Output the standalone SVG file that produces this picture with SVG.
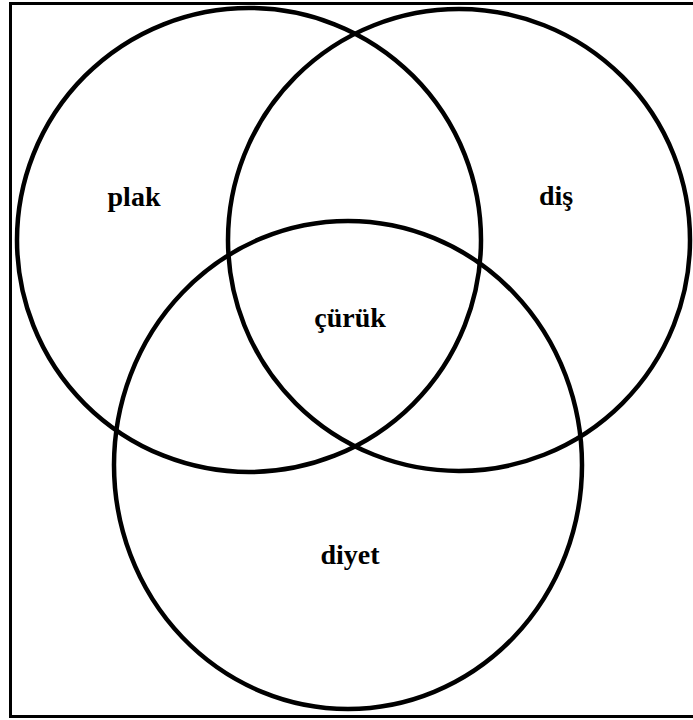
<svg xmlns="http://www.w3.org/2000/svg" width="693" height="720" viewBox="0 0 693 720">
<style>
.c{fill:none;stroke:#000;stroke-width:4.5}
.t{font-family:"Liberation Serif","Times New Roman",serif;font-weight:bold;font-size:28px;fill:#000;text-anchor:middle}
</style>
<rect width="693" height="720" fill="#fff"/>
<path d="M700,3.5 H10.5 V716.5 H700" fill="none" stroke="#000" stroke-width="3"/>
<g id="plak"><circle class="c" cx="249" cy="240" r="232"/><text class="t" x="134" y="206">plak</text></g>
<g id="dis"><circle class="c" cx="459" cy="240" r="231"/><text class="t" x="556" y="205">diş</text></g>
<g id="diyet"><ellipse class="c" cx="348" cy="465" rx="234" ry="244"/><text class="t" x="350" y="564">diyet</text></g>
<g id="curuk"><text class="t" x="350" y="327">çürük</text></g>
<g id="connectors"></g>
</svg>
